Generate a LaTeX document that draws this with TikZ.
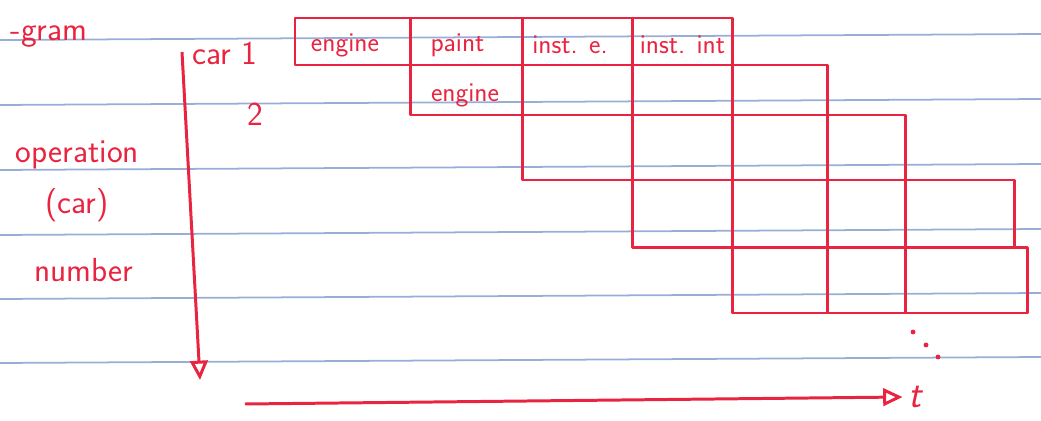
\documentclass[tikz,border=0pt]{standalone}
\usepackage{fontspec}
\usetikzlibrary{arrows.meta}
\definecolor{inkred}{RGB}{232,36,64}
\definecolor{ruleblue}{RGB}{152,174,214}

\begin{document}
\begin{tikzpicture}[>={Triangle[open,length=11pt,width=10pt]}, font=\sffamily,
        ink/.style={draw=inkred, line width=1.7pt, line join=round},
        cell/.style={text=inkred, font=\sffamily\fontsize{15.5}{18}\selectfont},
        side/.style={text=inkred, font=\sffamily\fontsize{19}{22}\selectfont}]

        \useasboundingbox (0,0) rectangle (20.82,8.4);

        % --- paper rules ---
        \foreach \y in {7.6, 6.3, 5.0, 3.7, 2.42, 1.14}
            \draw[ruleblue, line width=1pt] (0,\y) -- (20.82,\y+0.12);

        % --- staircase, one row per car ---
        % car 1
        \draw[ink] (5.9,7.1) rectangle (14.64,8.04);
        \foreach \x in {8.2, 10.44, 12.64} \draw[ink] (\x,7.1) -- (\x,8.04);
        % car 2
        \draw[ink] (8.2,6.1) rectangle (16.54,7.1);
        \foreach \x in {10.44, 12.64, 14.64} \draw[ink] (\x,6.1) -- (\x,7.1);
        % car 3
        \draw[ink] (10.44,4.8) rectangle (18.1,6.1);
        \foreach \x in {12.64, 14.64, 16.54} \draw[ink] (\x,4.8) -- (\x,6.1);
        % car 4
        \draw[ink] (12.64,3.45) rectangle (20.28,4.8);
        \foreach \x in {14.64, 16.54, 18.1} \draw[ink] (\x,3.45) -- (\x,4.8);
        % car 5
        \draw[ink] (14.64,2.14) rectangle (20.54,3.45);
        \foreach \x in {16.54, 18.1} \draw[ink] (\x,2.14) -- (\x,3.45);

        % --- operations in the cells ---
        \node[cell] (engA) at (6.9,7.5) {engine};
        \node[cell] (paintA) at (9.15,7.5) {paint};
        \node[cell] (insteA) at (11.4,7.5) {inst. e.};
        \node[cell] (instiA) at (13.65,7.5) {inst. int};
        \node[cell] (engB) at (9.3,6.5) {engine};

        % --- side labels ---
        \node[side] (gram) at (0.98,7.66) {-gram};
        \node[side] (carA) at (4.5,7.34) {car 1};
        \node[side] (carB) at (5.1,6.12) {2};
        \node[side] (oper) at (1.55,5.3) {operation};
        \node[side] (carp) at (1.54,4.3) {(car)};
        \node[side] (numb) at (1.68,3.0) {number};

        % --- axes ---
        \coordinate (ytop) at (3.64,7.36);
        \coordinate (yend) at (4.0,0.8);
        \draw[ink, ->] (ytop) -- (yend);
        \coordinate (tstart) at (4.9,0.32);
        \coordinate (tend) at (18.05,0.46);
        \draw[ink, ->] (tstart) -- (tend);
        \node[side, font=\sffamily\itshape\fontsize{22}{24}\selectfont, anchor=west] (tlbl) at (tend) {t};

        % --- dots, more cars follow ---
        \foreach \p in {(18.26,1.76), (18.52,1.5), (18.76,1.26)}
            \fill[inkred] \p circle (1.4pt);

    \end{tikzpicture}
\end{document}
